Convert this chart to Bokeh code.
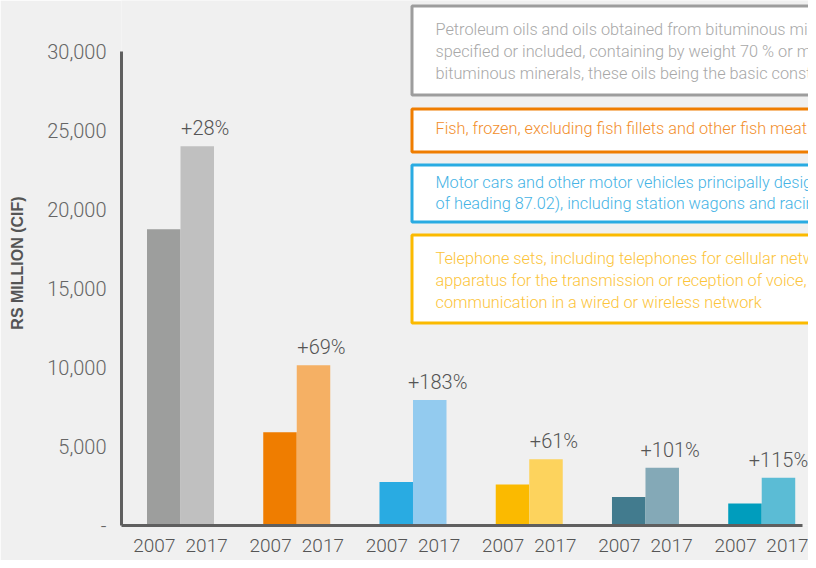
from bokeh.plotting import figure
from bokeh.models import (ColumnDataSource, Range1d, FixedTicker, CustomJSTickFormatter,
                          BoxAnnotation, Label)
from bokeh.core.properties import value
from bokeh.embed import file_html
from bokeh.resources import INLINE

# ---------------- data ----------------
years = ["2007", "2017"]
groups = ["Petroleum oils", "Fish, frozen", "Motor cars", "Telephone sets", "Group 5", "Group 6"]
values_2007 = [18750, 5900, 2750, 2600, 1800, 1400]
values_2017 = [24000, 10150, 7950, 4190, 3650, 3020]
changes = ["+28%", "+69%", "+183%", "+61%", "+101%", "+115%"]
colors_2007 = ["#9d9e9d", "#ef7d00", "#29abe2", "#fbba00", "#427b8e", "#009dbd"]
colors_2017 = ["#c0c0c0", "#f5b064", "#93cbef", "#fdd35d", "#84a9b7", "#5bbcd5"]
y_ticks = [0, 5000, 10000, 15000, 20000, 25000, 30000]
y_axis_title = "RS MILLION (CIF)"

legend_lines = [
    ["Petroleum oils and oils obtained from bituminous minerals, other than crude; preparations not elsewhere",
     "specified or included, containing by weight 70 % or more of petroleum oils or of oils obtained from",
     "bituminous minerals, these oils being the basic constituents of the preparations; waste oils"],
    ["Fish, frozen, excluding fish fillets and other fish meat of heading 03.04"],
    ["Motor cars and other motor vehicles principally designed for the transport of persons (other than those",
     "of heading 87.02), including station wagons and racing cars"],
    ["Telephone sets, including telephones for cellular networks or for other wireless networks; other",
     "apparatus for the transmission or reception of voice, images or other data, including apparatus for",
     "communication in a wired or wireless network"],
]
legend_border = ["#9d9d9d", "#ef7d00", "#29abe2", "#fbba00"]
legend_text = ["#a8a8a8", "#f28e2b", "#45b3e5", "#fcc43a"]

# ---------------- layout constants ----------------
W, H = 808, 560
LEFT, BOTTOM = 121, 35
BAR_PX = 33.5            # pixels per x unit (one bar width)
GROUP_STEP = 3.47        # group spacing in bar widths
FONT = "Roboto Light"
BG = "#f0f0f0"
AXIS_COLOR = "#5f5f5f"

frame_w = W - LEFT
frame_h = H - BOTTOM
x0_px = 180 - LEFT       # px of first group centre from frame left
x_start = -x0_px / BAR_PX
x_end = x_start + frame_w / BAR_PX
x_axis_end = (802 - 180) / BAR_PX
top_px = 51              # canvas y of the top tick
y_end = y_ticks[-1] * frame_h / (frame_h - top_px)

centers = [i * GROUP_STEP for i in range(len(groups))]

bar_x, bar_top, bar_col = [], [], []
for c, a, b, ca, cb in zip(centers, values_2007, values_2017, colors_2007, colors_2017):
    bar_x += [c - 0.5, c + 0.5]
    bar_top += [a, b]
    bar_col += [ca, cb]
bars = ColumnDataSource(dict(x=bar_x, top=bar_top, color=bar_col))
label_x = [min(c + 0.5 + 8 / BAR_PX, x_end - 30 / BAR_PX) for c in centers]
labels = ColumnDataSource(dict(x=label_x, y=values_2017, text=changes))

p = figure(width=W, height=H, output_backend="svg", toolbar_location=None,
           x_range=Range1d(x_start, x_end), y_range=Range1d(0, y_end))
p.min_border = 0
p.min_border_left = LEFT
p.min_border_bottom = BOTTOM
p.min_border_top = 0
p.min_border_right = 0
p.background_fill_color = BG
p.border_fill_color = BG
p.outline_line_color = None
p.grid.grid_line_color = None

p.vbar(x="x", top="top", bottom=0, width=1.0, color="color", line_color=None, source=bars)
p.text(x="x", y="y", text="text", source=labels, text_align="center", text_baseline="alphabetic",
       y_offset=-18, text_font=value(FONT), text_font_size="20px", text_color="#555555")

# y axis
ya = p.yaxis[0]
ya.ticker = FixedTicker(ticks=y_ticks)
ya.formatter = CustomJSTickFormatter(code="return tick == 0 ? '-' : tick.toLocaleString('en-US');")
ya.bounds = (0, y_ticks[-1])
ya.axis_line_color = AXIS_COLOR
ya.axis_line_width = 3
ya.major_tick_line_color = None
ya.minor_tick_line_color = None
ya.major_tick_out = 0
ya.major_tick_in = 0
ya.major_label_standoff = 15
ya.major_label_text_font = FONT
ya.major_label_text_font_size = "20px"
ya.major_label_text_color = "#666666"
ya.axis_label = y_axis_title
ya.axis_label_text_font = "Liberation Sans"
ya.axis_label_text_font_style = "bold"
ya.axis_label_text_font_size = "16px"
ya.axis_label_text_color = "#555555"
ya.axis_label_standoff = 18

# x axis
xa = p.xaxis[0]
tick_pos = []
for c in centers:
    tick_pos += [c - 0.78, c + 0.78]
xa.ticker = FixedTicker(ticks=tick_pos)
xa.formatter = CustomJSTickFormatter(args=dict(years=years), code="return years[index % 2];")
xa.bounds = (x_start, x_axis_end)
xa.axis_line_color = AXIS_COLOR
xa.axis_line_width = 3
xa.major_tick_line_color = None
xa.minor_tick_line_color = None
xa.major_tick_out = 0
xa.major_tick_in = 0
xa.major_label_standoff = 13
xa.major_label_text_font = FONT
xa.major_label_text_font_size = "19px"
xa.major_label_text_color = "#555555"

# legend boxes (canvas pixel positions)
box_top = [4, 107, 163, 233]
box_bottom = [96, 153, 223, 324]
line_y = [[29, 51, 73], [128], [182, 203], [258, 280, 302]]
for lines, bc, tc, t, b, ys in zip(legend_lines, legend_border, legend_text, box_top, box_bottom, line_y):
    p.add_layout(BoxAnnotation(left=411.5, right=W + 40, top=t + 1.5, bottom=b - 1.5,
                               left_units="canvas", right_units="canvas",
                               top_units="canvas", bottom_units="canvas",
                               fill_color="white", fill_alpha=1.0,
                               line_color=bc, line_width=3, line_alpha=1.0))
    for txt, yy in zip(lines, ys):
        p.add_layout(Label(x=435, y=yy, x_units="canvas", y_units="canvas", text=txt,
                           text_font=FONT, text_font_size="16.3px", text_color=tc,
                           text_baseline="middle", text_align="left"))

open("out.html", "w").write(file_html(p, INLINE))
